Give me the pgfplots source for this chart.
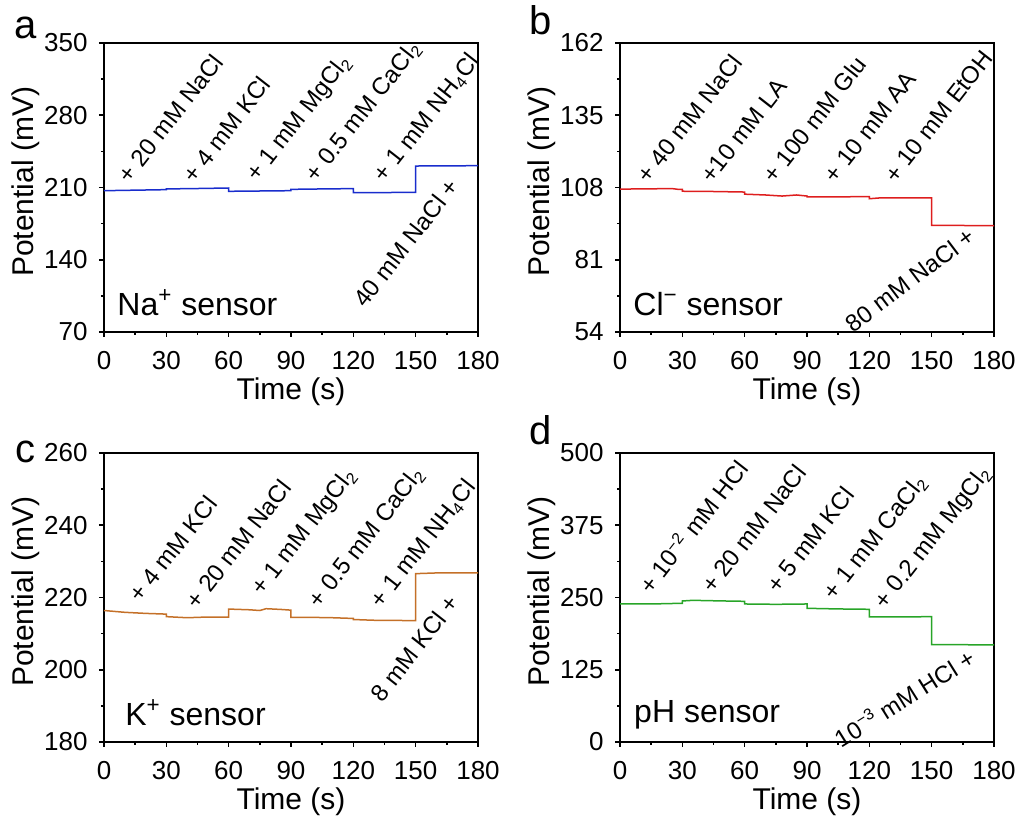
\documentclass[border=0pt]{standalone}
\usepackage{pgfplots}
\pgfplotsset{compat=1.18}
\usepackage{fontspec}
\setmainfont{Liberation Sans}
\definecolor{cblue}{RGB}{25,45,205}
\definecolor{cred}{RGB}{222,30,30}
\definecolor{cbrown}{RGB}{196,112,40}
\definecolor{cgreen}{RGB}{40,165,40}
\pgfplotsset{
  panel/.style={
    width=187pt, height=144.5pt, scale only axis,
    anchor=south west,
    xmin=0, xmax=180, xtick={0,30,...,180},
    minor x tick num=1, minor y tick num=1,
    tick pos=left, tick align=outside,
    major tick length=2.5pt, minor tick length=1.5pt,
    axis line style={line width=0.9pt},
    every tick/.style={line width=0.8pt, black},
    tick label style={font=\fontsize{13}{15}\selectfont},
    label style={font=\fontsize{15}{18}\selectfont},
    /pgf/number format/assume math mode=true,
    xticklabel style={anchor=base, inner sep=0pt, yshift=-16.5pt},
    yticklabel style={anchor=east, inner sep=0pt, xshift=-5.5pt},
    xlabel={Time (s)}, ylabel={Potential (mV)},
    xlabel style={at={(axis description cs:0.5,-0.2353)}, anchor=base},
    ylabel style={at={(axis description cs:-0.1898,0.52)}, anchor=base},
    clip=false,
    every axis plot/.append style={line width=0.75pt},
  },
}
\tikzset{
  annot/.style={rotate=52, inner sep=0pt, font=\fontsize{12}{14}\selectfont},
  sens/.style={anchor=base west, inner sep=0pt, font=\fontsize{16}{19}\selectfont},
  letter/.style={anchor=base west, inner sep=0pt, font=\fontsize{20}{22}\selectfont},
}
\begin{document}
\begin{tikzpicture}
\path[use as bounding box] (0,0) rectangle (511pt,411.5pt);

% ---------- a ----------
\begin{axis}[panel, at={(52pt,245.5pt)}, ymin=70, ymax=350, ytick={70,140,210,280,350}]
\addplot[cblue] coordinates {
(0,206.9) (15,207.4) (30,207.9) (30,208.6) (45,209.0) (60,209.5)
(60,206.3) (75,206.6) (90,206.9) (90,208.2) (105,208.6) (120,208.9)
(120,205.0) (135,205.1) (150,205.3) (150,230.8) (165,231.0) (180,231.1)};
\node[annot, anchor=west] at (axis cs:9.0,217.9) {+ 20 mM NaCl};
\node[annot, anchor=west] at (axis cs:40.1,217.9) {+ 4 mM KCl};
\node[annot, anchor=west] at (axis cs:71.4,217.9) {+ 1 mM MgCl\textsubscript{2}};
\node[annot, anchor=west] at (axis cs:99.6,217.9) {+ 0.5 mM CaCl\textsubscript{2}};
\node[annot, anchor=west] at (axis cs:132.5,217.9) {+ 1 mM NH\textsubscript{4}Cl};
\node[annot, anchor=east] at (axis cs:168.4,215.6) {40 mM NaCl +};
\node[sens] at (rel axis cs:0.035,0.058) {Na\textsuperscript{+} sensor};
\end{axis}

% ---------- b ----------
\begin{axis}[panel, at={(310pt,245.5pt)}, ymin=54, ymax=162, ytick={54,81,108,135,162}]
\addplot[cred] coordinates {
(0,107.4) (15,107.5) (25,107.6) (28,107.3) (30,107.3) (30,106.6) (45,106.5) (60,106.3)
(60,105.5) (70,105.2) (78,104.8) (85,105.2) (90,104.8) (90,104.5) (105,104.5) (120,104.6)
(120,103.8) (125,104.1) (150,104.1) (150,93.8) (165,93.8) (180,93.7)};
\node[annot, anchor=west] at (axis cs:10.4,111.0) {+ 40 mM NaCl};
\node[annot, anchor=west] at (axis cs:41.1,111.0) {+10 mM LA};
\node[annot, anchor=west] at (axis cs:71.1,111.0) {+ 100 mM Glu};
\node[annot, anchor=west] at (axis cs:100.7,111.0) {+ 10 mM AA};
\node[annot, anchor=west] at (axis cs:129.6,111.0) {+ 10 mM EtOH};
\node[annot, anchor=east, rotate=-15] at (axis cs:169.4,90.9) {80 mM NaCl +};
\node[sens] at (rel axis cs:0.035,0.058) {Cl\textsuperscript{−} sensor};
\end{axis}

% ---------- c ----------
\begin{axis}[panel, at={(52pt,40.5pt)}, ymin=180, ymax=260, ytick={180,200,220,240,260}]
\addplot[cbrown] coordinates {
(0,216.4) (10,215.9) (20,215.6) (30,215.4) (30,214.7) (40,214.4) (50,214.6) (60,214.6)
(60,216.8) (70,216.6) (75,216.4) (78,216.9) (85,216.7) (90,216.5)
(90,214.5) (100,214.5) (110,214.4) (120,214.2)
(120,213.9) (130,213.7) (150,213.6) (150,226.6) (160,226.8) (180,226.8)};
\node[annot, anchor=west] at (axis cs:14.4,219.6) {+ 4 mM KCl};
\node[annot, anchor=west] at (axis cs:41.7,217.9) {+ 20 mM NaCl};
\node[annot, anchor=west] at (axis cs:73.8,221.2) {+ 1 mM MgCl\textsubscript{2}};
\node[annot, anchor=west] at (axis cs:101.2,217.9) {+ 0.5 mM CaCl\textsubscript{2}};
\node[annot, anchor=west] at (axis cs:130.9,217.9) {+ 1 mM NH\textsubscript{4}Cl};
\node[annot, anchor=east] at (axis cs:168.4,219.8) {8 mM KCl +};
\node[sens] at (rel axis cs:0.056,0.058) {K\textsuperscript{+} sensor};
\end{axis}

% ---------- d ----------
\begin{axis}[panel, at={(310pt,40.5pt)}, ymin=0, ymax=500, ytick={0,125,250,375,500}]
\addplot[cgreen] coordinates {
(0,238.8) (15,238.8) (30,240.0) (30,244.0) (35,245.1) (50,244.0) (60,243.4)
(60,238.8) (75,238.2) (90,238.8) (90,231.3) (105,230.2) (120,229.6)
(120,216.3) (135,216.3) (150,216.9) (150,168.6) (165,168.3) (180,168.0)};
\node[annot, anchor=west] at (axis cs:11.1,263.0) {+ 10\textsuperscript{−2} mM HCl};
\node[annot, anchor=west] at (axis cs:41.4,263.0) {+ 20 mM NaCl};
\node[annot, anchor=west] at (axis cs:72.7,263.0) {+ 5 mM KCl};
\node[annot, anchor=west] at (axis cs:100.7,250.3) {+ 1 mM CaCl\textsubscript{2}};
\node[annot, anchor=west] at (axis cs:125.1,234.2) {+ 0.2 mM MgCl\textsubscript{2}};
\node[annot, anchor=east, rotate=-20] at (axis cs:169.7,150.7) {10\textsuperscript{−3} mM HCl +};
\node[sens] at (rel axis cs:0.037,0.068) {pH sensor};
\end{axis}

% panel letters
\node[letter] at (7pt,392pt) {a};
\node[letter] at (264.5pt,394pt) {b};
\node[letter] at (7.5pt,180pt) {c};
\node[letter] at (264.5pt,189pt) {d};
\end{tikzpicture}
\end{document}
